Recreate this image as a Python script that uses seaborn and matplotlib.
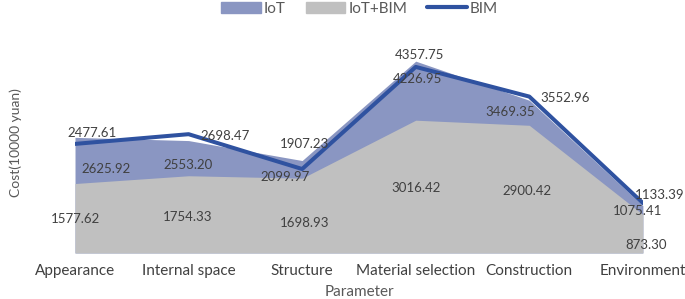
import numpy as np
import matplotlib
matplotlib.use('Agg')
import matplotlib.pyplot as plt
import seaborn as sns
from matplotlib.patches import Patch
from matplotlib.lines import Line2D

# 数据
categories = ['Appearance', 'Internal space', 'Structure', 'Material selection', 'Construction', 'Environment']
iot = [2625.92, 2553.20, 2099.97, 4357.75, 3469.35, 1075.41]
iot_bim = [1577.62, 1754.33, 1698.93, 3016.42, 2900.42, 873.30]
bim = [2477.61, 2698.47, 1907.23, 4226.95, 3552.96, 1133.39]

# 标签偏移（像素）
iot_off = [(31, -32), (-1, -24), (-17, -16), (4, 6), (-19, -12), (-5, -5)]
bim_off = [(17, 11), (36, -2), (2, 25), (2, -12), (36, -1), (17, 8)]
iot_bim_off = [(0, -35), (-1, -41), (2, -45), (0, -68), (-2, -66), (3, -30)]

sns.set_theme(style='white')
plt.rcParams['font.family'] = ['Lato', 'DejaVu Sans']
narrow = ['Liberation Sans Narrow', 'Lato', 'DejaVu Sans']

fig = plt.figure(figsize=(6.85, 2.99), dpi=100)
ax = fig.add_axes([0.1095, 0.154, 0.829, 0.736])

x = np.arange(len(categories))
blue_fill = '#8A96C2'
gray_fill = '#C0C0C0'
line_col = '#2F52A0'
txt_col = '#404040'

ax.fill_between(x, 0, iot, color=blue_fill, linewidth=0, zorder=1)
ax.fill_between(x, 0, iot_bim, color=gray_fill, linewidth=0, zorder=2)
sns.lineplot(x=x, y=bim, ax=ax, color=line_col, linewidth=2.9, zorder=3)

# 数据标签
for vals, offs in [(iot, iot_off), (bim, bim_off), (iot_bim, iot_bim_off)]:
    for i, (v, o) in enumerate(zip(vals, offs)):
        ax.annotate(f'{v:.2f}', (i, v), xytext=o, textcoords='offset pixels',
                    ha='center', va='center', fontsize=9.5, color=txt_col, zorder=5,
                    annotation_clip=False)

ax.set_xlim(0, 5)
ax.set_ylim(0, 5000)
ax.set_xticks(x)
ax.set_xticklabels(categories, fontsize=11, color='#404040', family=narrow)
ax.tick_params(axis='x', length=0, pad=8)
ax.set_yticks([])
for s in ax.spines.values():
    s.set_visible(False)
ax.set_xlabel('Parameter', fontsize=11, color='#595959', labelpad=5, family=narrow)
ax.set_ylabel('Cost(10000 yuan)', fontsize=10, color='#595959', labelpad=38)

handles = [Patch(color=blue_fill, label='IoT'),
           Patch(color=gray_fill, label='IoT+BIM'),
           Line2D([0], [0], color=line_col, linewidth=3, label='BIM')]
fig.legend(handles=handles, loc='upper center', bbox_to_anchor=(0.525, 1.04), ncol=3,
           frameon=False, handlelength=2.6, handletextpad=0.2, columnspacing=1.3,
           labelcolor='#595959', prop={'size': 11, 'family': narrow})

fig.savefig('out.png', dpi=100)
